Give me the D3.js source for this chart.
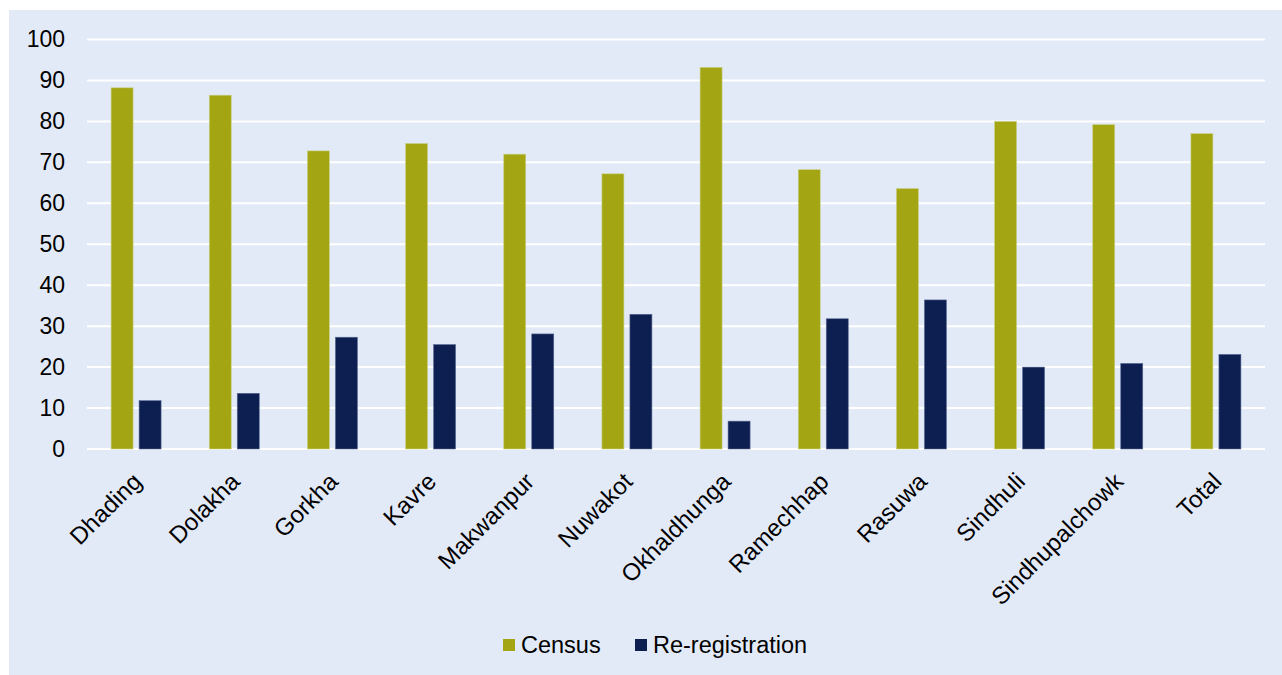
<!DOCTYPE html>
<html>
<head>
<meta charset="utf-8">
<script src="https://cdn.jsdelivr.net/npm/d3@7"></script>
<style>
  html, body { margin: 0; padding: 0; background: #ffffff; }
  svg { display: block; }
  text { font-family: "Liberation Sans", Arial, sans-serif; fill: #000; }
</style>
</head>
<body>
<svg id="chart" width="1282" height="675"></svg>
<script>
const districts = ["Dhading", "Dolakha", "Gorkha", "Kavre", "Makwanpur", "Nuwakot",
  "Okhaldhunga", "Ramechhap", "Rasuwa", "Sindhuli", "Sindhupalchowk", "Total"];
const census = [88.2, 86.4, 72.8, 74.6, 72.0, 67.2, 93.2, 68.2, 63.6, 80.0, 79.2, 77.0];
const reRegistration = [11.8, 13.6, 27.3, 25.5, 28.1, 32.9, 6.8, 31.8, 36.4, 20.0, 20.9, 23.1];
const seriesNames = ["Census", "Re-registration"];
const seriesColors = ["#A3A612", "#0D1F51"];
const yTicks = [0, 10, 20, 30, 40, 50, 60, 70, 80, 90, 100];

const svg = d3.select("#chart");
const W = 1282, H = 675;

// panel background
svg.append("rect").attr("x", 9).attr("y", 10).attr("width", W - 9).attr("height", H - 10)
  .attr("fill", "#E3EAF7");

const plot = { left: 87, right: 1265, top: 39.5, bottom: 449 };

const x = d3.scaleBand().domain(districts).range([plot.left, plot.right]).paddingInner(0).paddingOuter(0);
const y = d3.scaleLinear().domain([0, 100]).range([plot.bottom, plot.top]);

// gridlines
svg.append("g").selectAll("line").data(yTicks).join("line")
  .attr("x1", plot.left).attr("x2", plot.right)
  .attr("y1", d => y(d)).attr("y2", d => y(d))
  .attr("stroke", "#ffffff").attr("stroke-width", 2);

// y axis labels
const yAxis = d3.axisLeft(y).tickValues(yTicks).tickSize(0).tickPadding(22);
const gy = svg.append("g").attr("transform", `translate(${plot.left},0)`).call(yAxis);
gy.select(".domain").remove();
gy.selectAll("text").attr("font-size", 23).attr("font-family", "Liberation Sans, Arial, sans-serif")
  .attr("fill", "#000");

// bars
const barW = 22, gap = 6;
const series = [census, reRegistration];
series.forEach((vals, si) => {
  svg.append("g").selectAll("rect").data(districts).join("rect")
    .attr("x", d => x(d) + x.bandwidth() / 2 - (barW + gap / 2) + si * (barW + gap))
    .attr("y", (d, i) => y(vals[i]))
    .attr("width", barW)
    .attr("height", (d, i) => y(0) - y(vals[i]))
    .attr("fill", seriesColors[si])
    .attr("stroke", si === 0 ? "#C9D18A" : "#5A6A94")
    .attr("stroke-width", 0.6);
});

// x axis labels, rotated
svg.append("g").selectAll("text").data(districts).join("text")
  .attr("transform", d => `translate(${x(d) + x.bandwidth() / 2 + 7},${plot.bottom + 34}) rotate(-45)`)
  .attr("text-anchor", "end")
  .attr("font-size", 24)
  .text(d => d);

// legend
const legend = svg.append("g");
const legendItems = [{ x: 503, name: seriesNames[0], c: seriesColors[0] },
                     { x: 635, name: seriesNames[1], c: seriesColors[1] }];
legendItems.forEach(it => {
  legend.append("rect").attr("x", it.x).attr("y", 639).attr("width", 12).attr("height", 12).attr("fill", it.c);
  legend.append("text").attr("x", it.x + 18).attr("y", 653).attr("font-size", 23.5).text(it.name);
});
</script>
</body>
</html>
